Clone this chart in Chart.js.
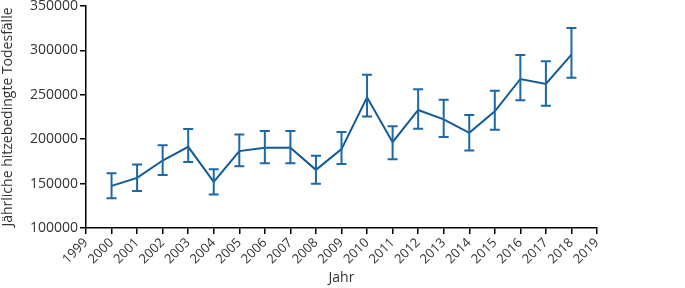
<!DOCTYPE html>
<html>
<head>
<meta charset="utf-8">
<script src="https://cdn.jsdelivr.net/npm/chart.js@4"></script>
<style>
  html, body { margin: 0; padding: 0; background: #fff; }
  #wrap { width: 685px; height: 288px; position: relative; }
</style>
</head>
<body>
<div id="wrap"><canvas id="chart"></canvas></div>
<script>
// yearly heat-related deaths with confidence bounds
const years = [2000, 2001, 2002, 2003, 2004, 2005, 2006, 2007, 2008, 2009,
               2010, 2011, 2012, 2013, 2014, 2015, 2016, 2017, 2018];
const deaths = [147400, 156400, 176000, 191400, 151900, 186600, 190300, 190300, 165500, 188800,
                247200, 196700, 232900, 222300, 207200, 231400, 267800, 262200, 295300];
const upper = [161700, 171500, 193300, 211400, 166300, 205400, 209100, 209100, 181300, 208000,
               272700, 214500, 256200, 244500, 227200, 254600, 294900, 287800, 325100];
const lower = [133500, 141800, 159800, 174200, 137700, 169600, 173000, 173000, 149700, 172200,
               225700, 177500, 211700, 202400, 187400, 210600, 243800, 237700, 269300];
const xTicks = [1999, 2000, 2001, 2002, 2003, 2004, 2005, 2006, 2007, 2008, 2009,
                2010, 2011, 2012, 2013, 2014, 2015, 2016, 2017, 2018, 2019];
const yTicks = [100000, 150000, 200000, 250000, 300000, 350000];

const lineColor = '#115a98';
const barColor = '#1d68a6';
const textColor = '#333333';
const fontFamily = '"Open Sans", sans-serif';

// error bars with caps, positioned through the chart scales
const errorBars = {
    id: 'errorBars',
    afterDatasetsDraw(chart) {
        const { ctx, scales: { x, y } } = chart;
        ctx.save();
        ctx.strokeStyle = barColor;
        ctx.lineWidth = 2;
        const cap = 5;
        years.forEach((yr, i) => {
            const px = x.getPixelForValue(yr);
            const top = y.getPixelForValue(upper[i]);
            const bot = y.getPixelForValue(lower[i]);
            ctx.beginPath();
            ctx.moveTo(px, top);
            ctx.lineTo(px, bot);
            ctx.moveTo(px - cap, top);
            ctx.lineTo(px + cap, top);
            ctx.moveTo(px - cap, bot);
            ctx.lineTo(px + cap, bot);
            ctx.stroke();
        });
        ctx.restore();
    }
};

new Chart(document.getElementById('chart'), {
    type: 'line',
    data: {
        datasets: [{
            label: 'Todesfälle',
            data: years.map((yr, i) => ({ x: yr, y: deaths[i] })),
            borderColor: lineColor,
            borderWidth: 2,
            pointRadius: 0,
            fill: false,
            tension: 0
        }]
    },
    options: {
        responsive: true,
        maintainAspectRatio: false,
        animation: false,
        layout: { padding: { left: 0, right: 88, top: 6, bottom: 0 } },
        plugins: {
            legend: { display: false },
            tooltip: { enabled: false }
        },
        scales: {
            x: {
                type: 'linear',
                min: 1999,
                max: 2019,
                afterBuildTicks: (scale) => { scale.ticks = xTicks.map(v => ({ value: v })); },
                afterFit: (scale) => { scale.height = 60; },
                ticks: {
                    color: textColor,
                    font: { family: fontFamily, size: 13 },
                    minRotation: 45,
                    maxRotation: 45,
                    autoSkip: false,
                    padding: 1,
                    callback: (v) => String(v)
                },
                grid: { drawOnChartArea: false, drawTicks: true, tickLength: 6, color: '#000', lineWidth: 1.5 },
                border: { color: '#000', width: 1.5 },
                title: { display: true, text: 'Jahr', color: textColor, font: { family: fontFamily, size: 14 }, padding: { top: 0, bottom: 2 } }
            },
            y: {
                min: 100000,
                max: 350000,
                afterBuildTicks: (scale) => { scale.ticks = yTicks.map(v => ({ value: v })); },
                afterFit: (scale) => { scale.width = 86; scale.paddingTop = 0; },
                ticks: {
                    color: textColor,
                    font: { family: fontFamily, size: 14 },
                    padding: 2,
                    callback: (v) => String(v)
                },
                grid: { drawOnChartArea: false, drawTicks: true, tickLength: 6, color: '#000', lineWidth: 1.5 },
                border: { color: '#000', width: 1.5 },
                title: { display: true, text: 'Jährliche hitzebedingte Todesfälle', color: textColor, font: { family: fontFamily, size: 14 }, padding: { top: 0, bottom: 1 } }
            }
        }
    },
    plugins: [errorBars]
});
</script>
</body>
</html>
